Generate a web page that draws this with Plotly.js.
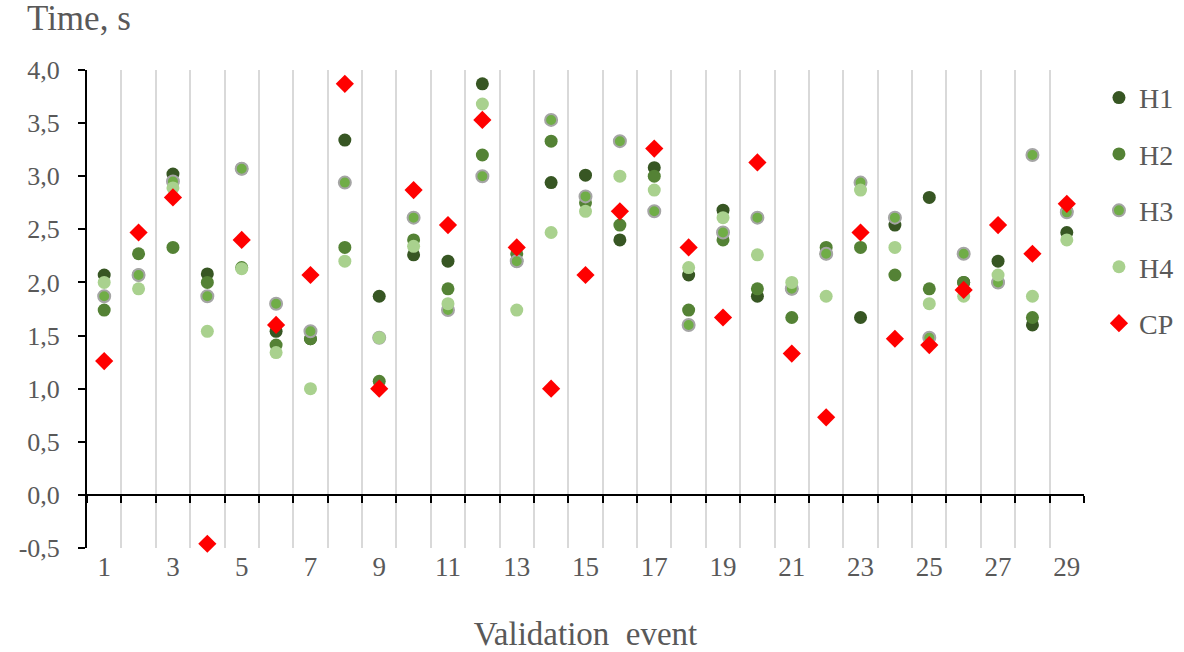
<!DOCTYPE html>
<html>
<head>
<meta charset="utf-8">
<script src="https://cdn.plot.ly/plotly-3.0.1.min.js"></script>
<style>html,body{margin:0;padding:0;background:#fff;}#chart{width:1184px;height:652px;}</style>
</head>
<body>
<div id="chart"></div>
<script>
const events = [1,2,3,4,5,6,7,8,9,10,11,12,13,14,15,16,17,18,19,20,21,22,23,24,25,26,27,28,29];
const H1 = [2.07,2.07,3.02,2.08,3.07,1.54,1.47,3.34,1.87,2.26,2.20,3.87,2.20,2.94,3.01,2.40,3.08,2.07,2.68,1.87,1.94,2.27,1.67,2.54,2.80,2.00,2.20,1.60,2.47];
const H2 = [1.74,2.27,2.33,2.00,2.14,1.41,1.47,2.33,1.07,2.40,1.94,3.20,2.27,3.33,2.75,2.54,3.00,1.74,2.40,1.94,1.67,2.33,2.33,2.07,1.94,2.00,2.00,1.67,2.67];
const H3 = [1.87,2.07,2.95,1.87,3.07,1.80,1.54,2.94,1.48,2.61,1.74,3.00,2.20,3.53,2.81,3.33,2.67,1.60,2.47,2.61,1.94,2.27,2.94,2.61,1.48,2.27,2.00,3.20,2.66];
const H4 = [2.00,1.94,2.89,1.54,2.13,1.34,1.00,2.20,1.48,2.34,1.80,3.68,1.74,2.47,2.67,3.00,2.87,2.14,2.61,2.26,2.00,1.87,2.87,2.33,1.80,1.87,2.07,1.87,2.40];
const CP = [1.26,2.47,2.80,-0.46,2.40,1.60,2.07,3.87,1.00,2.87,2.54,3.53,2.33,1.00,2.07,2.67,3.26,2.33,1.67,3.13,1.33,0.73,2.47,1.47,1.41,1.93,2.54,2.27,2.74];
const xTickVals = [1,3,5,7,9,11,13,15,17,19,21,23,25,27,29];
const xDividers = [0.5,1.5,2.5,3.5,4.5,5.5,6.5,7.5,8.5,9.5,10.5,11.5,12.5,13.5,14.5,15.5,16.5,17.5,18.5,19.5,20.5,21.5,22.5,23.5,24.5,25.5,26.5,27.5,28.5,29.5];
const yTickVals = [-0.5,0,0.5,1,1.5,2,2.5,3,3.5,4];
const yTickText = ['-0,5','0,0','0,5','1,0','1,5','2,0','2,5','3,0','3,5','4,0'];
const xRange = [0.5, 29.5];
const yRange = [-0.5, 4.0];

const font = 'Liberation Serif, Times New Roman, serif';
function pt(name, y, color, size, line, group) {
  return {type:'scatter', mode:'markers', name:name, x:events, y:y, legendgroup:group,
    marker:{color:color, size:size, symbol:'circle', line:line || {width:0}}, hoverinfo:'x+y'};
}
const traces = [
  pt('H1', H1, '#375623', 13, null, 'g1'),
  pt('H2', H2, '#548235', 13, null, 'g2'),
  pt('H3', H3, '#70AD47', 12, {color:'#A5A5A5', width:2}, 'g3'),
  pt('H4', H4, '#A9D18E', 13, null, 'g4'),
  {type:'scatter', mode:'markers', name:'CP', x:events, y:CP, legendgroup:'g5', cliponaxis:false,
   marker:{color:'#FF0000', size:14, symbol:'diamond', line:{width:0}}},
  {type:'scatter', mode:'markers', x:[], y:[], xaxis:'x2', showlegend:false, hoverinfo:'skip'}
];
const zeroPos = (0 - yRange[0]) / (yRange[1] - yRange[0]);
const layout = {
  width:1184, height:652,
  margin:{l:87, r:100, t:70, b:104, autoexpand:false},
  paper_bgcolor:'#fff', plot_bgcolor:'#fff',
  font:{family:font, size:26, color:'#595959'},
  showlegend:true,
  legend:{x:1.015, xanchor:'left', y:0.994, yanchor:'top', traceorder:'grouped', tracegroupgap:17,
          font:{family:font, size:28, color:'#595959'}, bgcolor:'rgba(0,0,0,0)'},
  xaxis:{range:xRange, tickmode:'array', tickvals:xTickVals, ticktext:xTickVals.map(String),
         ticks:'', showgrid:false, zeroline:false, showline:false,
         tickfont:{family:font, size:27, color:'#595959'},
         title:{text:'Validation  event', font:{family:font, size:33, color:'#595959'}, standoff:40}},
  xaxis2:{range:xRange, overlaying:'x', anchor:'free', position:zeroPos, side:'bottom',
          tickmode:'array', tickvals:xDividers, showticklabels:false,
          ticks:'outside', ticklen:7, tickwidth:2, tickcolor:'#000',
          showline:true, linecolor:'#000', linewidth:2,
          showgrid:true, gridcolor:'#d9d9d9', gridwidth:2, zeroline:false},
  yaxis:{range:yRange, tickmode:'array', tickvals:yTickVals, ticktext:yTickText,
         ticks:'outside', ticklen:7, tickwidth:2, tickcolor:'#000', ticklabelstandoff:13,
         showline:true, linecolor:'#000', linewidth:2, showgrid:false, zeroline:false,
         tickfont:{family:font, size:26, color:'#595959'}},
  annotations:[{text:'Time, s', xref:'paper', yref:'paper', x:-0.062, y:1.107, xanchor:'left', yanchor:'middle',
                showarrow:false, font:{family:font, size:35, color:'#595959'}}]
};
Plotly.newPlot('chart', traces, layout, {staticPlot:true});
</script>
</body>
</html>
